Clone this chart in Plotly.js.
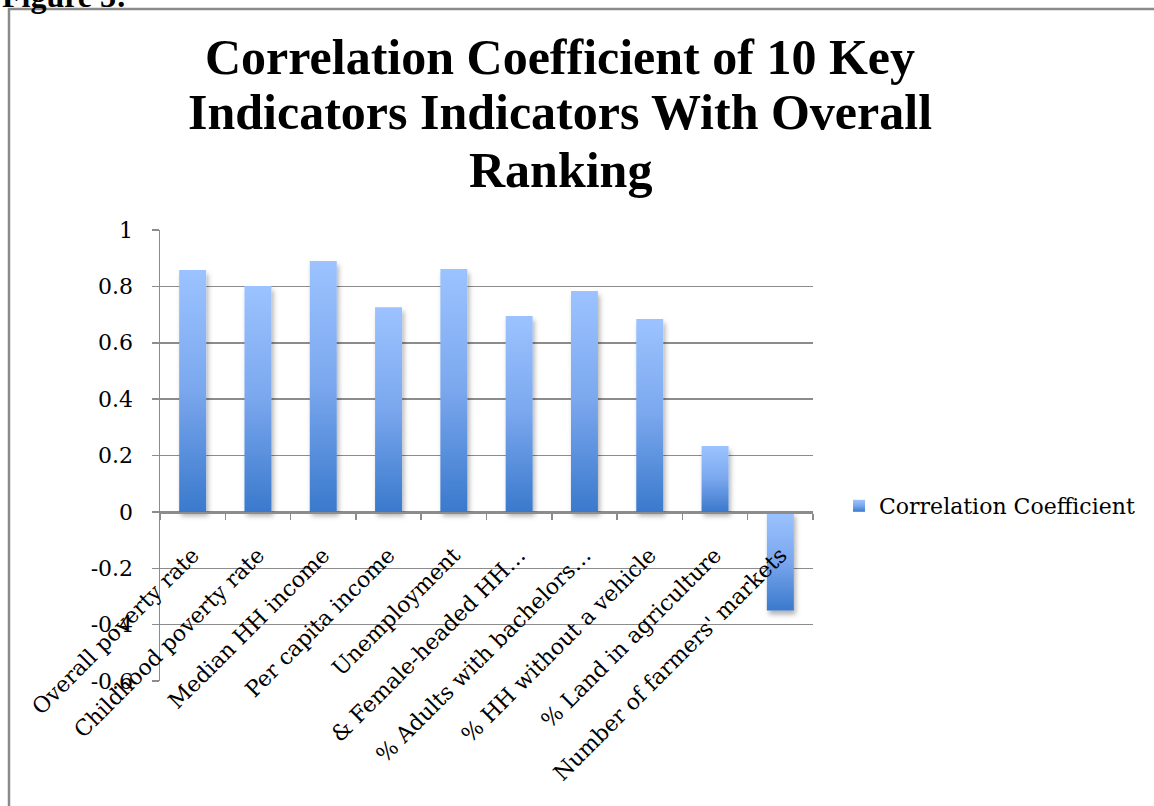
<!DOCTYPE html>
<html>
<head>
<meta charset="utf-8">
<script src="https://cdn.plot.ly/plotly-3.0.1.min.js"></script>
<style>
  html, body { margin: 0; padding: 0; background: #ffffff; }
  #chart { width: 1154px; height: 806px; }
</style>
</head>
<body>
<div id="chart"></div>
<script>
// ---- data ----
const categories = [
  "Overall poverty rate",
  "Childhood poverty rate",
  "Median HH income",
  "Per capita income",
  "Unemployment",
  "& Female-headed HH…",
  "% Adults with bachelors…",
  "% HH without a vehicle",
  "% Land in agriculture",
  "Number of farmers' markets"
];
const correlation = [0.858, 0.801, 0.890, 0.726, 0.862, 0.695, 0.784, 0.684, 0.234, -0.35];
const yTickValues = [1, 0.8, 0.6, 0.4, 0.2, 0, -0.2, -0.4, -0.6];
const yTickLabels = ["1", "0.8", "0.6", "0.4", "0.2", "0", "-0.2", "-0.4", "-0.6"];
const titleLines = [
  "Correlation Coefficient of 10 Key",
  "Indicators Indicators With Overall",
  "Ranking"
];
const seriesName = "Correlation Coefficient";
const figureLabel = "Figure 3:";

// ---- layout geometry (pixels) ----
const W = 1154, H = 806;
const M = { l: 160, r: 341, t: 230, b: 125 };
const plotW = W - M.l - M.r, plotH = H - M.t - M.b;
const px = x => (x - M.l) / plotW;
const py = y => (H - M.b - y) / plotH;

const gridColor = "#8c8c8c";
const serif = "DejaVu Serif, serif";
const titleFont = "Liberation Serif, serif";

const trace = {
  type: "bar",
  x: categories,
  y: correlation,
  name: seriesName,
  marker: { color: "#6f9fe3", line: { width: 0 } },
  showlegend: true,
  hoverinfo: "skip"
};

const titleCenters = [57, 112, 170];
const annotations = titleLines.map((t, i) => ({
  text: "<b>" + t + "</b>",
  xref: "paper", yref: "paper",
  x: px(560), y: py(titleCenters[i]),
  xanchor: "center", yanchor: "middle",
  showarrow: false,
  font: { family: titleFont, size: 50, color: "#000000" }
}));
annotations.push({
  text: "<b>" + figureLabel + "</b>",
  xref: "paper", yref: "paper",
  x: px(0), y: py(16),
  xanchor: "left", yanchor: "bottom",
  showarrow: false,
  font: { family: titleFont, size: 32, color: "#000000" }
});

const layout = {
  width: W, height: H,
  margin: M,
  paper_bgcolor: "#ffffff",
  plot_bgcolor: "#ffffff",
  bargap: 0.587,
  showlegend: true,
  legend: {
    x: px(839), y: py(506), xanchor: "left", yanchor: "middle",
    font: { family: serif, size: 22, color: "#000000" },
    bgcolor: "rgba(0,0,0,0)"
  },
  xaxis: {
    type: "category",
    anchor: "free",
    position: py(512),
    showline: true, linecolor: gridColor, linewidth: 1.5,
    ticks: "outside", tickson: "boundaries", ticklen: 6, tickcolor: gridColor, tickwidth: 1.5,
    tickangle: -45,
    ticklabelstandoff: 20,
    tickfont: { family: serif, size: 22, color: "#000000" },
    showgrid: false, zeroline: false,
    automargin: false
  },
  yaxis: {
    range: [-0.6, 1],
    tickvals: yTickValues,
    ticktext: yTickLabels,
    showline: true, linecolor: gridColor, linewidth: 1.5,
    ticks: "outside", ticklen: 7, tickcolor: gridColor, tickwidth: 1.5,
    ticklabelstandoff: 14,
    showgrid: true, gridcolor: gridColor, gridwidth: 1.5,
    zeroline: false,
    tickfont: { family: serif, size: 22, color: "#000000" },
    automargin: false
  },
  annotations: annotations,
  shapes: [
    {
      type: "path", xref: "paper", yref: "paper",
      path: "M " + px(9) + "," + py(H + 5) + " L " + px(9) + "," + py(9) + " L " + px(W + 5) + "," + py(9),
      line: { color: "#8a8a8a", width: 2.5 },
      layer: "below"
    }
  ]
};

function applyGradient() {
  const gd = document.getElementById("chart");
  const svg = gd.querySelector(".main-svg");
  if (!svg) return;
  const NS = "http://www.w3.org/2000/svg";
  if (!svg.querySelector("#barGrad")) {
    const defs = document.createElementNS(NS, "defs");
    defs.innerHTML =
      '<linearGradient id="barGrad" x1="0" y1="0" x2="0" y2="1">' +
      '<stop offset="0" stop-color="#9cc3ff"/>' +
      '<stop offset="0.5" stop-color="#7aa7ee"/>' +
      '<stop offset="1" stop-color="#3a79cc"/>' +
      '</linearGradient>' +
      '<filter id="barShadow" x="-30%" y="-10%" width="160%" height="130%">' +
      '<feDropShadow dx="2" dy="4" stdDeviation="2.5" flood-color="#000" flood-opacity="0.3"/>' +
      '</filter>';
    svg.insertBefore(defs, svg.firstChild);
  }
  gd.querySelectorAll(".bars .point path").forEach(p => {
    p.style.fill = "url(#barGrad)";
    p.setAttribute("filter", "url(#barShadow)");
  });
  gd.querySelectorAll(".legend .legendpoints path").forEach(p => {
    p.style.fill = "url(#barGrad)";
  });
}

Plotly.newPlot("chart", [trace], layout, { displayModeBar: false, staticPlot: true }).then(gd => {
  applyGradient();
  gd.on("plotly_afterplot", applyGradient);
});
</script>
</body>
</html>
